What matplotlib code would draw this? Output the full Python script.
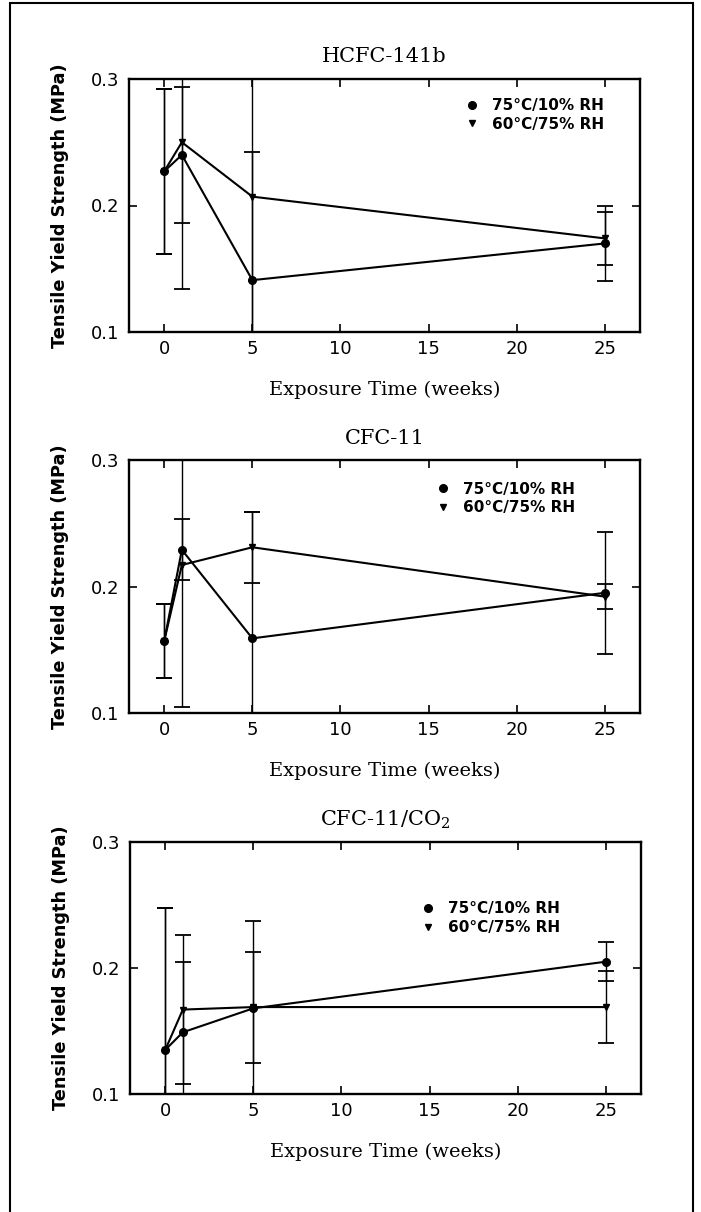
import matplotlib
matplotlib.use("Agg")
import matplotlib.pyplot as plt
from matplotlib.lines import Line2D
from matplotlib.patches import Rectangle

plt.rcParams['mathtext.fontset'] = 'dejavuserif'

weeks = [0, 1, 5, 25]
legend_labels = ["75°C/10% RH", "60°C/75% RH"]
titles = ["HCFC-141b", "CFC-11", "CFC-11/CO$_2$"]

# HCFC-141b
p1_dry = [0.227, 0.240, 0.141, 0.170]
p1_dry_err = [0.065, 0.054, 0.101, 0.0295]
p1_hum = [0.227, 0.250, 0.207, 0.174]
p1_hum_err = [0.065, 0.116, 0.120, 0.021]
# CFC-11
p2_dry = [0.157, 0.229, 0.159, 0.195]
p2_dry_err = [0.029, 0.024, 0.100, 0.048]
p2_hum = [0.157, 0.217, 0.231, 0.192]
p2_hum_err = [0.029, 0.112, 0.028, 0.010]
# CFC-11/CO2
p3_dry = [0.135, 0.149, 0.168, 0.205]
p3_dry_err = [0.113, 0.056, 0.069, 0.0155]
p3_hum = [0.135, 0.167, 0.169, 0.169]
p3_hum_err = [0.113, 0.059, 0.044, 0.0285]

xticks = [0, 5, 10, 15, 20, 25]
yticks = [0.1, 0.2, 0.3]
ytick_labels = ["0.1", "0.2", "0.3"]

panels = [
    (p1_dry, p1_dry_err, p1_hum, p1_hum_err),
    (p2_dry, p2_dry_err, p2_hum, p2_hum_err),
    (p3_dry, p3_dry_err, p3_hum, p3_hum_err),
]

W, H = 701, 1212
fig = plt.figure(figsize=(W / 100, H / 100), dpi=100)
fig.patch.set_facecolor('white')

# outer frame
fig.patches.append(Rectangle((10 / W, -0.01), (693 - 10) / W, 1.01 - 3 / H,
                             transform=fig.transFigure, fill=False,
                             edgecolor='black', lw=1.5))

axes_px = [(129, 640, 79, 332), (129, 640, 460, 713), (130, 641, 842, 1094)]
legend_pos = [(0.663, 0.925), (0.605, 0.915), (0.574, 0.765)]

for i, ((dry, dry_e, hum, hum_e), (l, r, t, b)) in enumerate(zip(panels, axes_px)):
    ax = fig.add_axes([l / W, 1 - b / H, (r - l) / W, (b - t) / H])
    ax.errorbar(weeks, hum, yerr=hum_e, color='black', lw=1.5, elinewidth=1.0,
                capsize=5.5, capthick=1.3, marker='v', ms=4.5, mfc='black', mec='black')
    ax.errorbar(weeks, dry, yerr=dry_e, color='black', lw=1.5, elinewidth=1.0,
                capsize=5.5, capthick=1.3, marker='o', ms=5.5, mfc='black', mec='black')
    ax.set_xlim(-2, 27)
    ax.set_ylim(0.1, 0.3)
    ax.set_xticks(xticks)
    ax.set_xticklabels([str(v) for v in xticks], fontsize=13, family='DejaVu Sans')
    ax.set_yticks(yticks)
    ax.set_yticklabels(ytick_labels, fontsize=13, family='DejaVu Sans')
    ax.tick_params(axis='both', direction='in', top=True, right=True, length=6, width=1.2)
    ax.tick_params(axis='x', pad=6)
    ax.tick_params(axis='y', pad=7)
    for s in ax.spines.values():
        s.set_linewidth(1.7)
    ax.text(0.5, 1 + 22 / (b - t), titles[i], transform=ax.transAxes, ha='center',
            va='center', fontsize=15, family='DejaVu Serif')
    ax.text(-0.135, 0.5, "Tensile Yield Strength (MPa)", transform=ax.transAxes,
            rotation=90, ha='center', va='center', fontsize=12.8,
            family='DejaVu Sans', fontweight='bold')
    ax.text(0.5, -0.23, "Exposure Time (weeks)", transform=ax.transAxes,
            ha='center', va='center', fontsize=14, family='DejaVu Serif')
    handles = [Line2D([], [], ls='none', marker='o', ms=5.5, color='black'),
               Line2D([], [], ls='none', marker='v', ms=4.5, color='black')]
    ax.legend(handles, legend_labels, loc='upper left', bbox_to_anchor=legend_pos[i],
              frameon=False, borderpad=0, borderaxespad=0, handlelength=0.6,
              handletextpad=1.0, labelspacing=0.25,
              prop={'family': 'DejaVu Sans', 'weight': 'bold', 'size': 11})

fig.savefig("out.png", dpi=100, facecolor='white')
